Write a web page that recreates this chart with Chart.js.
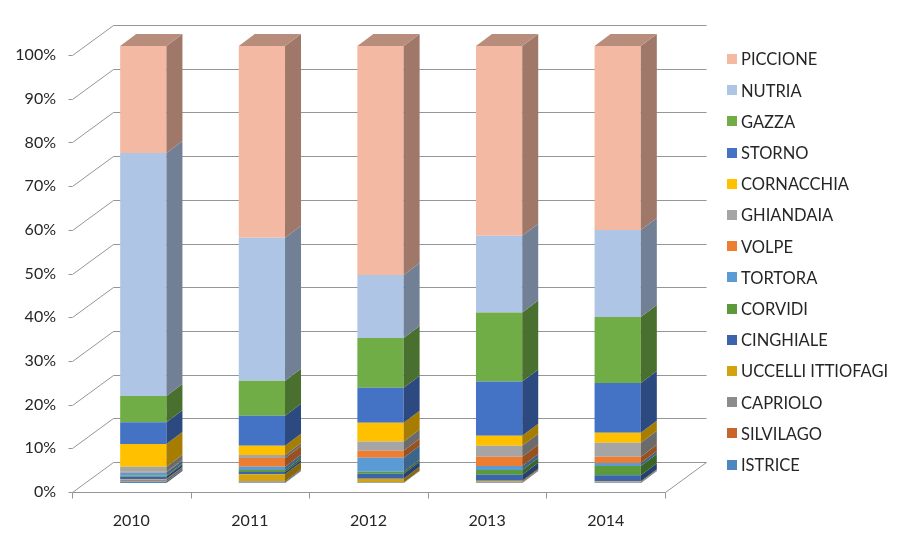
<!DOCTYPE html>
<html>
<head>
<meta charset="utf-8">
<script src="https://cdn.jsdelivr.net/npm/chart.js@4.4.1/dist/chart.umd.min.js"></script>
<style>
  html, body { margin: 0; padding: 0; background: #fff; }
</style>
</head>
<body>
<canvas id="chart" width="903" height="538"></canvas>
<script>
// years on the x axis
const years = ['2010', '2011', '2012', '2013', '2014'];

// share of each species per year (%), bottom of the stack first
const istrice    = [0.3, 0.1, 0.1, 0.1, 0.1];
const silvilago  = [0.1, 0.1, 0.0, 0.1, 0.1];
const capriolo   = [0.4, 0.2, 0.0, 0.1, 0.1];
const uccelli    = [0.1, 1.6, 0.9, 0.2, 0.1];
const cinghiale  = [0.6, 0.5, 1.1, 1.4, 1.4];
const corvidi    = [0.2, 0.5, 0.5, 1.1, 2.1];
const tortora    = [0.7, 0.7, 3.2, 0.9, 0.7];
const volpe      = [0.2, 2.0, 1.6, 2.1, 1.4];
const ghiandaia  = [1.1, 0.7, 2.1, 2.5, 3.2];
const cornacchia = [5.2, 2.1, 4.3, 2.3, 2.3];
const storno     = [5.0, 6.9, 8.0, 12.4, 11.4];
const gazza      = [6.0, 8.0, 11.4, 15.8, 15.1];
const nutria     = [55.6, 32.7, 14.4, 17.6, 19.9];
const piccione   = [24.5, 43.9, 52.4, 43.4, 42.1];

const yTicks = [0, 10, 20, 30, 40, 50, 60, 70, 80, 90, 100];

const series = [
    { label: 'ISTRICE', data: istrice, color: '#4F86C0' },
    { label: 'SILVILAGO', data: silvilago, color: '#C8652B' },
    { label: 'CAPRIOLO', data: capriolo, color: '#8C8C8C' },
    { label: 'UCCELLI ITTIOFAGI', data: uccelli, color: '#D4A20F' },
    { label: 'CINGHIALE', data: cinghiale, color: '#3B64AD' },
    { label: 'CORVIDI', data: corvidi, color: '#5A9A3B' },
    { label: 'TORTORA', data: tortora, color: '#5B9BD5' },
    { label: 'VOLPE', data: volpe, color: '#ED7D31' },
    { label: 'GHIANDAIA', data: ghiandaia, color: '#A5A5A5' },
    { label: 'CORNACCHIA', data: cornacchia, color: '#FFC000' },
    { label: 'STORNO', data: storno, color: '#4472C4' },
    { label: 'GAZZA', data: gazza, color: '#70AD47' },
    { label: 'NUTRIA', data: nutria, color: '#AFC5E6' },
    { label: 'PICCIONE', data: piccione, color: '#F4B9A3' }
];

const FONT = 'Lato, "Open Sans", sans-serif';
const TEXT = '#262626';
const GRID = '#969696';
// 3d look: wall depth and where the bars sit inside it
const DX = 41, DY = 30, SHIFT_X = 12, SHIFT_Y = 9, BAR_DX = 16, BAR_DY = 12;

function shade(hex, f) {
    const n = parseInt(hex.slice(1), 16);
    const r = Math.round(((n >> 16) & 255) * f);
    const g = Math.round(((n >> 8) & 255) * f);
    const b = Math.round((n & 255) * f);
    return `rgb(${r},${g},${b})`;
}

function line(ctx, pts) {
    ctx.beginPath();
    ctx.moveTo(pts[0][0] + 0.5, pts[0][1] + 0.5);
    for (let i = 1; i < pts.length; i++) ctx.lineTo(pts[i][0] + 0.5, pts[i][1] + 0.5);
    ctx.stroke();
}

const walls = {
    id: 'walls',
    beforeDatasetsDraw(chart) {
        const ctx = chart.ctx;
        const area = chart.chartArea;
        const ys = chart.scales.y;
        const fl = area.left - SHIFT_X, fr = area.right - SHIFT_X;
        ctx.save();
        ctx.strokeStyle = GRID;
        ctx.lineWidth = 1;
        yTicks.forEach(v => {
            const y = Math.round(ys.getPixelForValue(v) + SHIFT_Y);
            line(ctx, [[fl - 4, y], [fl, y], [fl + DX, y - DY], [fr + DX, y - DY]]);
        });
        const y0 = Math.round(ys.getPixelForValue(0) + SHIFT_Y);
        line(ctx, [[fl, y0], [fr, y0], [fr + DX, y0 - DY]]);
        for (let i = 0; i <= years.length; i++) {
            const x = Math.round(fl + i * (fr - fl) / years.length);
            line(ctx, [[x, y0], [x, y0 + 6]]);
        }
        ctx.restore();
    },
    afterDatasetsDraw(chart) {
        const ctx = chart.ctx;
        ctx.save();
        const last = chart.data.datasets.length - 1;
        chart.data.datasets.forEach((ds, di) => {
            const meta = chart.getDatasetMeta(di);
            meta.data.forEach(bar => {
                const p = bar.getProps(['x', 'y', 'base', 'width'], true);
                const r = p.x + p.width / 2, l = p.x - p.width / 2;
                const top = Math.min(p.y, p.base), bot = Math.max(p.y, p.base);
                if (bot - top <= 0) return;
                ctx.fillStyle = shade(ds.backgroundColor, 0.65);
                ctx.beginPath();
                ctx.moveTo(r, bot);
                ctx.lineTo(r, top);
                ctx.lineTo(r + BAR_DX, top - BAR_DY);
                ctx.lineTo(r + BAR_DX, bot - BAR_DY);
                ctx.closePath();
                ctx.fill();
                if (di === last) {
                    ctx.fillStyle = shade(ds.backgroundColor, 0.76);
                    ctx.beginPath();
                    ctx.moveTo(l, top);
                    ctx.lineTo(r, top);
                    ctx.lineTo(r + BAR_DX, top - BAR_DY);
                    ctx.lineTo(l + BAR_DX, top - BAR_DY);
                    ctx.closePath();
                    ctx.fill();
                }
            });
        });
        ctx.restore();
    },
    afterDraw(chart) {
        // legend, top of the stack first
        const ctx = chart.ctx;
        ctx.save();
        ctx.font = '16.5px ' + FONT;
        ctx.textBaseline = 'middle';
        ctx.textAlign = 'left';
        const items = chart.data.datasets.slice().reverse();
        items.forEach((ds, i) => {
            const y = 59 + i * 31.2;
            ctx.fillStyle = ds.backgroundColor;
            ctx.fillRect(727, Math.round(y - 5), 10, 10);
            ctx.fillStyle = TEXT;
            ctx.fillText(ds.label, 741, y + 1);
        });
        ctx.restore();
    }
};

new Chart(document.getElementById('chart'), {
    type: 'bar',
    data: {
        labels: years,
        datasets: series.map(s => ({
            label: s.label,
            data: s.data,
            backgroundColor: s.color,
            borderWidth: 0,
            categoryPercentage: 1,
            barPercentage: 0.39
        }))
    },
    options: {
        responsive: false,
        animation: false,
        layout: { padding: { top: 46, right: 226, bottom: 0, left: 0 } },
        plugins: { legend: { display: false }, tooltip: { enabled: false } },
        scales: {
            x: {
                stacked: true,
                grid: { display: false, drawTicks: false },
                border: { display: false },
                ticks: { color: TEXT, font: { family: FONT, size: 16 }, labelOffset: -SHIFT_X, padding: 28 },
                afterFit: s => { s.height = 55; }
            },
            y: {
                stacked: true,
                min: 0,
                max: 100,
                grid: { display: false, drawTicks: false },
                border: { display: false },
                ticks: {
                    stepSize: 10,
                    color: TEXT,
                    font: { family: FONT, size: 16 },
                    labelOffset: SHIFT_Y,
                    padding: 28,
                    callback: v => v + '%'
                },
                afterFit: s => { s.width = 84; }
            }
        }
    },
    plugins: [walls]
});
</script>
</body>
</html>
